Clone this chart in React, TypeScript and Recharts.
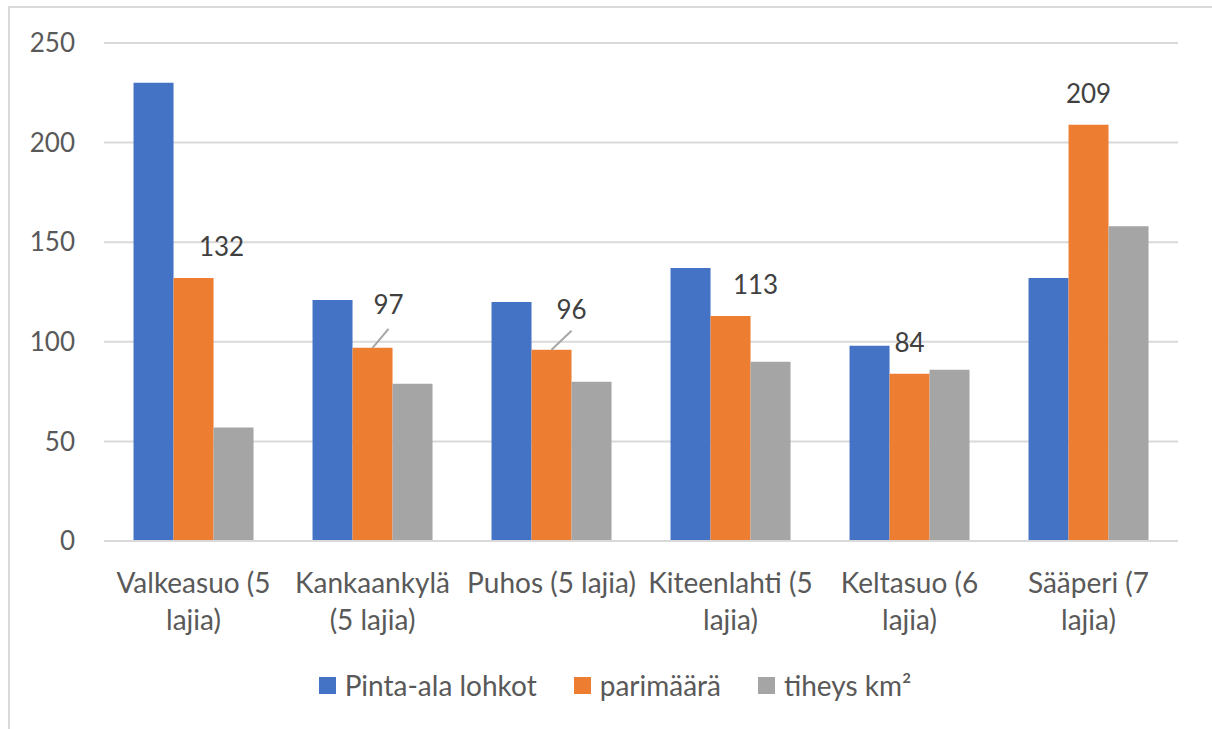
import React from 'react';
import { BarChart, Bar, XAxis, YAxis, CartesianGrid, Legend, LabelList } from 'recharts';

const categories = [
  'Valkeasuo (5 lajia)',
  'Kankaankylä (5 lajia)',
  'Puhos (5 lajia)',
  'Kiteenlahti (5 lajia)',
  'Keltasuo (6 lajia)',
  'Sääperi (7 lajia)',
];
// tick labels as they wrap in the reference
const tickLines = [
  ['Valkeasuo (5', 'lajia)'],
  ['Kankaankylä', '(5 lajia)'],
  ['Puhos (5 lajia)'],
  ['Kiteenlahti (5', 'lajia)'],
  ['Keltasuo (6', 'lajia)'],
  ['Sääperi (7', 'lajia)'],
];
const pintaAla = [230, 121, 120, 137, 98, 132];
const parimaara = [132, 97, 96, 113, 84, 209];
const tiheys = [57, 79, 80, 90, 86, 158];
const yTicks = [0, 50, 100, 150, 200, 250];

const seriesNames = ['Pinta-ala lohkot', 'parimäärä', 'tiheys km²'];
const colors = ['#4472C4', '#ED7D31', '#A5A5A5'];

// label placement styling for the parimäärä data labels
const labelDx = [28, 16, 20, 25, 0, 0];
const labelDy = [-32, -44, -41, -32, -32, -32];
const leader = [false, true, true, false, false, false];

const data = categories.map((c, i) => ({
  name: c,
  a: pintaAla[i],
  b: parimaara[i],
  c: tiheys[i],
}));

const FONT = 'Lato, "Open Sans", sans-serif';
const TEXT = '#595959';

const XTick = (props: any) => {
  const { x, y, index } = props;
  const lines = tickLines[index] || [props.payload.value];
  return (
    <text
      x={x}
      y={y}
      textAnchor="middle"
      style={{ fontFamily: FONT, fontSize: 28, fill: TEXT }}
    >
      {lines.map((l: string, i: number) => (
        <tspan key={i} x={x} y={y + 33 + i * 37} dominantBaseline="central">
          {l}
        </tspan>
      ))}
    </text>
  );
};

const DataLabel = (props: any) => {
  const { x, y, width, value, index } = props;
  const bx = x + width / 2;
  const cx = bx + labelDx[index];
  const cy = y + labelDy[index];
  return (
    <g>
      {leader[index] && (
        <line x1={bx} y1={y} x2={bx + labelDx[index]} y2={y - 19} stroke="#A6A6A6" strokeWidth={2} />
      )}
      <text
        x={cx}
        y={cy}
        textAnchor="middle"
        dominantBaseline="central"
        style={{ fontFamily: FONT, fontSize: 26, fill: '#404040' }}
      >
        {value}
      </text>
    </g>
  );
};

const LegendContent = () => (
  <div
    style={{
      display: 'flex',
      justifyContent: 'center',
      alignItems: 'center',
      height: 40,
      fontFamily: FONT,
      fontSize: 28,
      color: TEXT,
      paddingLeft: 52,
    }}
  >
    {seriesNames.map((n, i) => (
      <div key={n} style={{ display: 'flex', alignItems: 'center', marginRight: i < 2 ? 37 : 0 }}>
        <div style={{ width: 17, height: 17, background: colors[i], marginRight: 9 }} />
        <span>{n}</span>
      </div>
    ))}
  </div>
);

export default function App() {
  return (
    <div style={{ position: 'absolute', left: 0, top: 0, width: 1212, height: 729, background: '#fff' }}>
      <div
        style={{
          position: 'absolute',
          left: 8,
          top: 6,
          width: 1204,
          height: 723,
          borderLeft: '2px solid #D9D9D9',
          borderTop: '2px solid #D9D9D9',
        }}
      />
      <div style={{ position: 'absolute', left: 0, top: 0 }}>
        <BarChart
          width={1212}
          height={729}
          data={data}
          margin={{ top: 43, right: 34, left: 0, bottom: 24 }}
          barCategoryGap="16.5%"
          barGap={0}
        >
          <CartesianGrid vertical={false} stroke="#D9D9D9" strokeWidth={2} />
          <XAxis
            dataKey="name"
            height={124}
            axisLine={{ stroke: '#D9D9D9', strokeWidth: 2 }}
            tickLine={false}
            interval={0}
            tick={<XTick />}
          />
          <YAxis
            width={104}
            domain={[0, 250]}
            ticks={yTicks}
            axisLine={false}
            tickLine={false}
            tickSize={0}
            tickMargin={29}
            tick={{ fontFamily: FONT, fontSize: 26, fill: TEXT }}
          />
          <Legend verticalAlign="bottom" height={40} content={<LegendContent />} />
          <Bar dataKey="a" name={seriesNames[0]} fill={colors[0]} isAnimationActive={false} />
          <Bar dataKey="b" name={seriesNames[1]} fill={colors[1]} isAnimationActive={false}>
            <LabelList dataKey="b" content={<DataLabel />} />
          </Bar>
          <Bar dataKey="c" name={seriesNames[2]} fill={colors[2]} isAnimationActive={false} />
        </BarChart>
      </div>
    </div>
  );
}
